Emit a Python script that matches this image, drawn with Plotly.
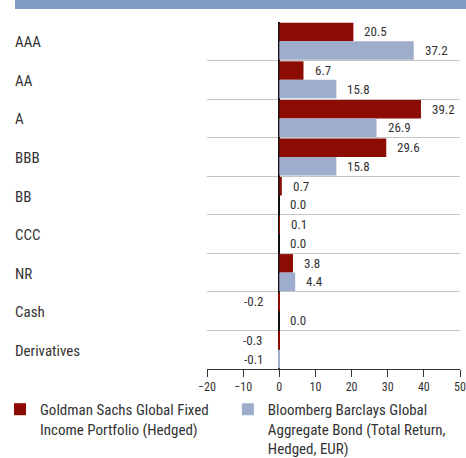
import plotly.graph_objects as go

categories = ["AAA", "AA", "A", "BBB", "BB", "CCC", "NR", "Cash", "Derivatives"]
fund = [20.5, 6.7, 39.2, 29.6, 0.7, 0.1, 3.8, -0.2, -0.3]
bench = [37.2, 15.8, 26.9, 15.8, 0.0, 0.0, 4.4, 0.0, -0.1]
fund_name = "Goldman Sachs Global Fixed<br>Income Portfolio (Hedged)"
bench_name = "Bloomberg Barclays Global<br>Aggregate Bond (Total Return,<br>Hedged, EUR)"
x_ticks = [-20, -10, 0, 10, 20, 30, 40, 50]

FONT = "Liberation Sans Narrow, Arial Narrow, Roboto Condensed, DejaVu Sans Condensed, sans-serif"
RED = "#8c0c03"
BLUE = "#9fadcd"
TXT = "#333333"

fig = go.Figure()
fig.add_trace(go.Bar(y=categories, x=fund, orientation="h", name=fund_name,
                     marker=dict(color=RED, line=dict(width=0)),
                     legend="legend", showlegend=True))
fig.add_trace(go.Bar(y=categories, x=bench, orientation="h", name=bench_name,
                     marker=dict(color=BLUE, line=dict(width=0)),
                     legend="legend2", showlegend=True))

annotations = []
for series, shift in ((fund, 9.3), (bench, -9.3)):
    for c, v in zip(categories, series):
        pos = v >= 0
        annotations.append(dict(
            x=v, y=c, xref="x", yref="y", text=f"{v:.1f}", showarrow=False,
            xanchor="left" if pos else "right", xshift=9 if pos else -13,
            yshift=shift, font=dict(family=FONT, size=13, color=TXT)))

for c in categories:
    annotations.append(dict(
        x=-0.759, y=c, xref="paper", yref="y", text=c, showarrow=False,
        xanchor="left", xshift=-2, yshift=-1,
        font=dict(family=FONT, size=15, color=TXT)))

legend_common = dict(orientation="v", xref="container", yref="container",
                     xanchor="left", yanchor="top", valign="top",
                     font=dict(family=FONT, size=15, color=TXT),
                     itemclick=False, itemdoubleclick=False,
                     bgcolor="rgba(0,0,0,0)", visible=True)

fig.update_layout(
    width=466, height=458, showlegend=True,
    margin=dict(l=207, r=6, t=22, b=89, autoexpand=False),
    paper_bgcolor="white", plot_bgcolor="white",
    barmode="group", bargap=0.04, bargroupgap=0,
    font=dict(family=FONT, size=12, color=TXT),
    annotations=annotations,
    shapes=[dict(type="rect", xref="paper", yref="paper",
                 x0=-0.759, x1=1.03, y0=1.0375, y1=1.08,
                 fillcolor="#7f9bc1", line=dict(width=0), layer="above")],
    xaxis=dict(range=[-20, 50], tickvals=x_ticks, showgrid=False,
               zeroline=True, zerolinecolor="#111111", zerolinewidth=1.5,
               showline=True, linecolor="#333333", linewidth=1,
               ticks="outside", ticklen=7, tickcolor="#333333", tickwidth=1,
               tickfont=dict(family=FONT, size=12, color=TXT)),
    yaxis=dict(type="category", autorange="reversed", tickson="boundaries",
               showticklabels=False, ticks="", showgrid=True,
               gridcolor="#c4c4c4", gridwidth=1, zeroline=False, showline=False),
    legend=dict(legend_common, x=0, y=0.142),
    legend2=dict(legend_common, x=0.489, y=0.142),
)

fig.write_html("out.html", config={"displayModeBar": False},
               post_script="document.body.style.margin='0';")
